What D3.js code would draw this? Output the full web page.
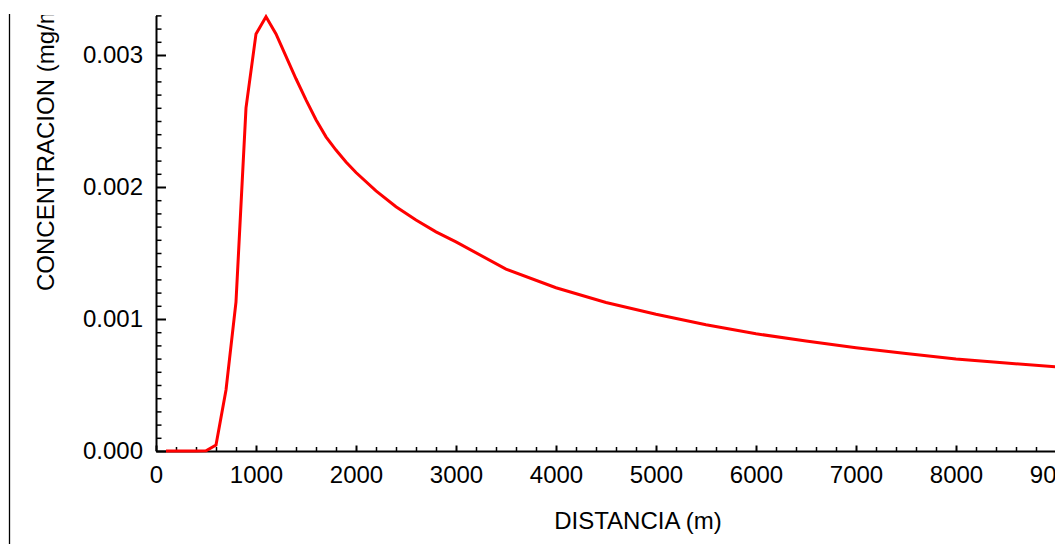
<!DOCTYPE html>
<html>
<head>
<meta charset="utf-8">
<script src="https://cdn.jsdelivr.net/npm/d3@7"></script>
<style>
  html, body { margin: 0; padding: 0; background: #fff; }
  svg { display: block; font-family: "Liberation Sans", Arial, sans-serif; }
</style>
</head>
<body>
<svg id="chart" width="1055" height="544"></svg>
<script>
// ---- data ----
const distance = [100, 200, 300, 400, 500, 600, 700, 800, 900, 1000, 1100, 1200,
  1300, 1400, 1500, 1600, 1700, 1800, 1900, 2000, 2200, 2400, 2600, 2800, 3000, 3500, 4000, 4500,
  5000, 5500, 6000, 6500, 7000, 7500, 8000, 8500, 9000];
const concentration = [0, 0, 0, 0, 0.000002, 0.000045, 0.000462, 0.00113, 0.00260, 0.00316, 0.00329, 0.00316,
  0.00299, 0.00282, 0.00266, 0.00251, 0.00238, 0.00228, 0.00219, 0.00211, 0.00197, 0.00185, 0.00175, 0.00166, 0.001584, 0.001378, 0.001237, 0.001125,
  0.001036, 0.000957, 0.000888, 0.000834, 0.000783, 0.000738, 0.000697, 0.000666, 0.000638];
const xMajorTicks = [0, 1000, 2000, 3000, 4000, 5000, 6000, 7000, 8000, 9000, 10000];
const yMajorTicks = [0, 0.001, 0.002, 0.003];
const xLabel = "DISTANCIA (m)";
const yLabel = "CONCENTRACION (mg/m3)";

const svg = d3.select("#chart");
const font = 24;
const fam = "Liberation Sans, Arial, sans-serif";

const x = d3.scaleLinear().domain([0, 10000]).range([156, 1156]);
const y = d3.scaleLinear().domain([0, 0.0033]).range([451, 15.4]);

const xMinor = d3.range(0, 10001, 200).filter(v => v % 1000 !== 0);
const yMinor = d3.range(0, 34).map(i => +(i * 0.0001).toFixed(4)).filter(v => Math.round(v * 10000) % 10 !== 0);

// left frame line
svg.append("line").attr("x1", 9.5).attr("x2", 9.5).attr("y1", 14).attr("y2", 544)
  .attr("stroke", "#000").attr("stroke-width", 1.3);

// clip for y title
svg.append("defs").append("clipPath").attr("id", "clipTop")
  .append("rect").attr("x", 0).attr("y", 15).attr("width", 1055).attr("height", 529);

// x axis minor
svg.append("g").attr("transform", "translate(0,451)")
  .call(d3.axisBottom(x).tickValues(xMinor).tickSize(-4).tickFormat(""))
  .call(g => g.select(".domain").remove())
  .call(g => g.selectAll(".tick line").attr("stroke", "#000").attr("stroke-width", 1.5));
// x axis major
svg.append("g").attr("transform", "translate(0,451)")
  .call(d3.axisBottom(x).tickValues(xMajorTicks).tickSize(-5.5).tickPadding(15).tickFormat(d3.format("d")).tickSizeOuter(0))
  .call(g => g.select(".domain").attr("stroke", "#000").attr("stroke-width", 2))
  .call(g => g.selectAll(".tick line").attr("stroke", "#000").attr("stroke-width", 2))
  .call(g => g.selectAll("text").attr("font-size", font).attr("fill", "#000").attr("font-family", fam));

// y axis minor
svg.append("g").attr("transform", "translate(156,0)")
  .call(d3.axisLeft(y).tickValues(yMinor).tickSize(-5.5).tickFormat(""))
  .call(g => g.select(".domain").remove())
  .call(g => g.selectAll(".tick line").attr("stroke", "#000").attr("stroke-width", 1.5));
// y axis major
svg.append("g").attr("transform", "translate(156,0)")
  .call(d3.axisLeft(y).tickValues(yMajorTicks).tickSize(-10).tickPadding(13).tickFormat(d3.format(".3f")).tickSizeOuter(0))
  .call(g => g.select(".domain").attr("stroke", "#000").attr("stroke-width", 2))
  .call(g => g.selectAll(".tick line").attr("stroke", "#000").attr("stroke-width", 2))
  .call(g => g.selectAll("text").attr("font-size", font).attr("fill", "#000").attr("font-family", fam));

// curve
const line = d3.line().x((d, i) => x(distance[i])).y(d => y(d));
svg.append("path").datum(concentration)
  .attr("d", line)
  .attr("fill", "none").attr("stroke", "#ff0000").attr("stroke-width", 3)
  .attr("stroke-linejoin", "miter");

// axis titles
svg.append("text").attr("x", 638).attr("y", 529).attr("text-anchor", "middle")
  .attr("font-size", font).attr("fill", "#000").text(xLabel);
svg.append("g").attr("clip-path", "url(#clipTop)")
  .append("text").attr("transform", "translate(54,291) rotate(-90)")
  .attr("text-anchor", "start").attr("font-size", font).attr("fill", "#000").text(yLabel);
</script>
</body>
</html>
